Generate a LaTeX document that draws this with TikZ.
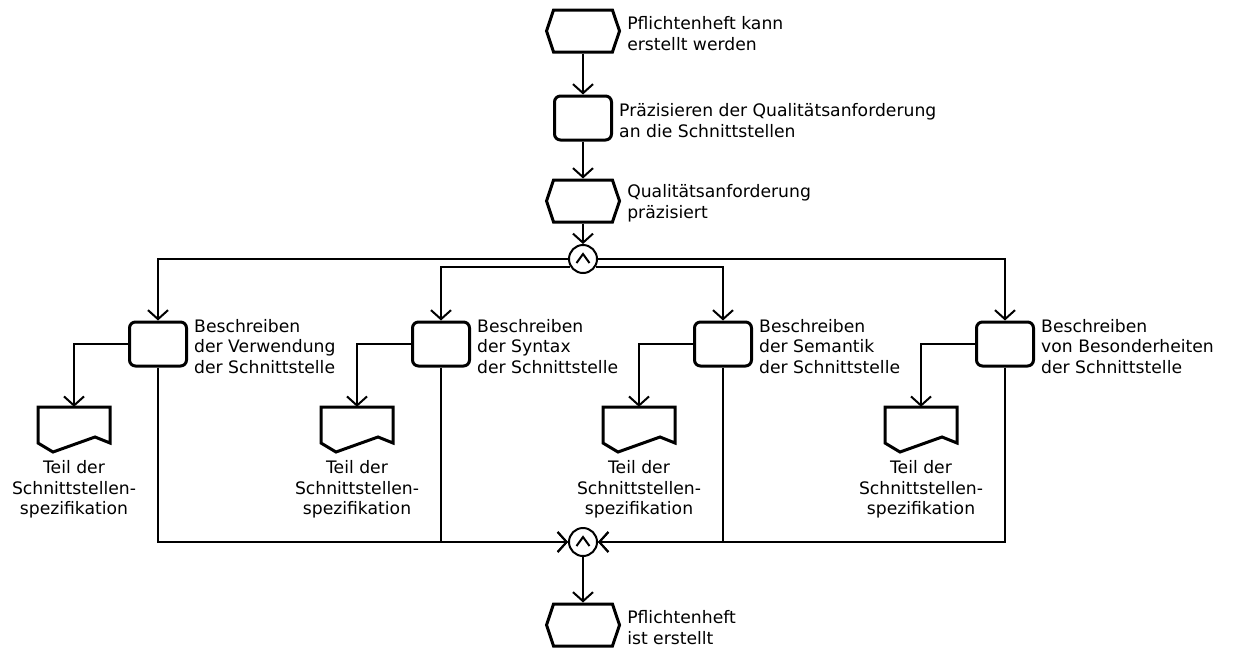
\documentclass[tikz,border=0pt]{standalone}
\usepackage{fontspec}
\setmainfont{DejaVu Sans}
\usetikzlibrary{positioning,shapes.symbols,arrows.meta}

\tikzset{
  event/.style={signal, signal to=west and east, signal pointer angle=143,
    draw, line width=3pt, minimum width=73pt, minimum height=42pt, inner sep=0pt},
  func/.style={rectangle, rounded corners=6pt, draw, line width=3pt,
    minimum width=57pt, minimum height=44pt, inner sep=0pt},
  andop/.style={circle, draw, line width=2pt, minimum size=28pt, inner sep=0pt,
    path picture={\draw[line width=2pt]
      ([shift={(-6.5pt,-4pt)}]path picture bounding box.center) --
      ([shift={(0pt,5pt)}]path picture bounding box.center) --
      ([shift={(6.5pt,-4pt)}]path picture bounding box.center);}},
  doc/.style={rectangle, minimum width=72pt, minimum height=45pt, inner sep=0pt},
  docline/.style={line width=3pt},
  lbl/.style={align=left, inner sep=0pt, yshift=-2.5pt},
  doclbl/.style={align=center, inner sep=0pt},
  flow/.style={line width=2pt, -{Straight Barb[length=9pt,width=20pt]}},
}

\begin{document}
\begin{tikzpicture}[x=1pt, y=-1pt, font=\fontsize{17.2}{20.6}\selectfont]
  \useasboundingbox (0,0) rectangle (1233,649);

  % main chain
  \node[event] (e1) at (583,31) {};
  \node[lbl, right=6pt of e1] (e1t) {Pflichtenheft kann\\erstellt werden};
  \node[func] (f1) at (583,118) {};
  \node[lbl, right=6pt of f1] (f1t) {Präzisieren der Qualitätsanforderung\\an die Schnittstellen};
  \node[event] (e2) at (583,201) {};
  \node[lbl, right=6pt of e2] (e2t) {Qualitätsanforderung\\präzisiert};
  \node[andop] (and1) at (583,259) {};
  \node[andop] (and2) at (583,542) {};
  \node[event] (e3) at (583,625) {};
  \node[lbl, right=6pt of e3] (e3t) {Pflichtenheft\\ist erstellt};

  \draw[flow] (e1.south) -- (f1.north);
  \draw[flow] (f1.south) -- (e2.north);
  \draw[flow] (e2.south) -- (and1.north);
  \draw[flow] (and2.south) -- (e3.north);

  % the four parallel functions
  \foreach \n/\x/\side/\txt in {
      1/158/west/{Beschreiben\\der Verwendung\\der Schnittstelle},
      2/441/west/{Beschreiben\\der Syntax\\der Schnittstelle},
      3/723/east/{Beschreiben\\der Semantik\\der Schnittstelle},
      4/1005/east/{Beschreiben\\von Besonderheiten\\der Schnittstelle}} {
    \node[func] (b\n) at (\x,344) {};
    \node[lbl, right=6pt of b\n] (b\n t) {\txt};
    \node[doc] (d\n) at (\x-84,429.5) {};
    \draw[docline, shift={(d\n.center)}] (-36,-22.5) -- (36,-22.5) -- (36,13.5)
      -- (21,7.5) -- (-21,22.5) -- (-36,13.5) -- cycle;
    \node[doclbl, below=8pt of d\n] (d\n t) {Teil der\\Schnittstellen-\\spezifikation};
    \draw[flow] (b\n.west) -| (d\n.north);
    \draw[flow] (b\n.south) |- (and2.\side);
  }

  \draw[flow] (and1.west) -| (b1.north);
  \draw[flow] (and1.east) -| (b4.north);
  \draw[flow] (and1.-150) -| (b2.north);
  \draw[flow] (and1.-30) -| (b3.north);
\end{tikzpicture}
\end{document}
